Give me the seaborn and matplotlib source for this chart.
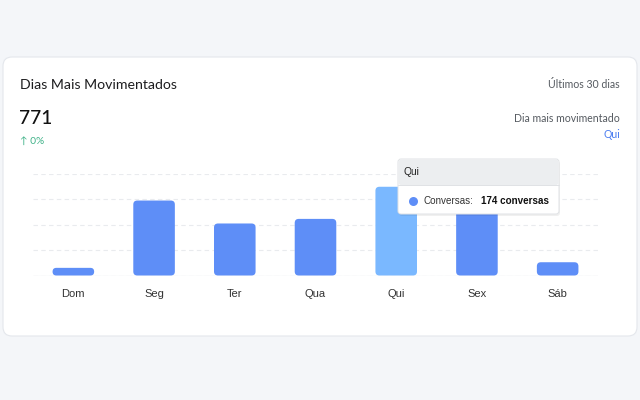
import matplotlib
matplotlib.use("Agg")
import matplotlib.pyplot as plt
from matplotlib.patches import FancyBboxPatch, Circle
import seaborn as sns
import pandas as pd

days = ["Dom", "Seg", "Ter", "Qua", "Qui", "Sex", "Sáb"]
conversas = [15, 147, 102, 111, 174, 160, 26]
highlight_day = "Qui"
grid_ticks = [0, 50, 100, 150, 200]

title = "Dias Mais Movimentados"
period = "Últimos 30 dias"
total = "771"
change = "↑ 0%"
busiest_label = "Dia mais movimentado"
tooltip_series = "Conversas:"
tooltip_value = "174 conversas"

BAR = "#5e8ef7"
BAR_HI = "#7ab8ff"
W, H = 640, 400

sns.set_theme(style="white")
plt.rcParams["font.family"] = ["Liberation Sans", "DejaVu Sans"]

fig = plt.figure(figsize=(6.4, 4), dpi=100)
fig.patch.set_facecolor("#f4f6f9")
T = fig.dpi_scale_trans


def P(x, y):
    return x / 100.0, (H - y) / 100.0


# card
cx0, cy0, cx1, cy1 = 3, 57, 637, 336
card = FancyBboxPatch(P(cx0, cy1), (cx1 - cx0) / 100, (cy1 - cy0) / 100,
                      boxstyle="round,pad=0,rounding_size=0.09",
                      transform=T, facecolor="white", edgecolor="#e4e7ec",
                      linewidth=0.8, zorder=0)
fig.add_artist(card)

# axes
ax_l, ax_r, ax_t, ax_b = 33, 598, 173.5, 275.5
ax = fig.add_axes([ax_l / W, (H - ax_b) / H, (ax_r - ax_l) / W, (ax_b - ax_t) / H])
ax.set_facecolor("none")

df = pd.DataFrame({"dia": days, "conversas": conversas})
colors = {d: (BAR_HI if d == highlight_day else BAR) for d in days}
sns.barplot(data=df, x="dia", y="conversas", hue="dia", palette=colors,
            legend=False, width=0.515, ax=ax, saturation=1)
ax.set_xlim(-0.5, len(days) - 0.5)
ax.set_ylim(0, grid_ticks[-1])
ax.set_yticks(grid_ticks)
ax.set_yticklabels([])
ax.set_xlabel("")
ax.set_ylabel("")
for s in ax.spines.values():
    s.set_visible(False)
ax.grid(axis="y", color="#e9ebee", linestyle=(0, (4, 3)), linewidth=0.8)
ax.axhline(0, color="#e6e8eb", linewidth=0.9, zorder=1)
ax.set_axisbelow(True)
ax.tick_params(axis="x", length=0, pad=9.5, labelsize=8, labelcolor="#333333")
ax.tick_params(axis="y", length=0)

# rounded bars
px_per_x = (ax_r - ax_l) / len(days)
px_per_y = (ax_b - ax_t) / grid_ticks[-1]
aspect = px_per_x / px_per_y
for p in list(ax.patches):
    x, y = p.get_x(), p.get_y()
    w, h = p.get_width(), p.get_height()
    fc = p.get_facecolor()
    p.remove()
    r = min(4.0 / px_per_x, (h / aspect) / 2 * 0.98)
    fb = FancyBboxPatch((x, y), w, h, boxstyle=f"round,pad=0,rounding_size={r}",
                        mutation_aspect=aspect, facecolor=fc, edgecolor="none",
                        zorder=3)
    ax.add_patch(fb)

# header texts
fig.text(20 / 100, (H - 85) / 100, title, transform=T, fontsize=10.2,
         family=["Lato", "DejaVu Sans"], color="#1d1d1f", va="center", ha="left")
fig.text(620 / 100, (H - 85) / 100, period, transform=T, fontsize=7.6,
         family=["Lato", "DejaVu Sans"], color="#555a60", va="center", ha="right")
fig.text(19.5 / 100, (H - 118) / 100, total, transform=T, fontsize=13.8,
         family=["Lato", "DejaVu Sans"], fontweight="medium", color="#111111",
         va="center", ha="left")
fig.text(20 / 100, (H - 141) / 100, change, transform=T, fontsize=7.3,
         family=["Lato", "DejaVu Sans"], color="#3fb288", va="center", ha="left")
fig.text(620 / 100, (H - 119) / 100, busiest_label, transform=T, fontsize=7.6,
         family=["Lato", "DejaVu Sans"], color="#555a60", va="center", ha="right")
fig.text(620 / 100, (H - 135) / 100, highlight_day, transform=T, fontsize=7.6,
         family=["Lato", "DejaVu Sans"], color="#4a7cf0", va="center", ha="right")

# tooltip
tx0, ty0, tx1, ty1 = 398, 159, 559, 214
shadow = FancyBboxPatch(P(tx0 + 1, ty1 + 2), (tx1 - tx0) / 100, (ty1 - ty0) / 100,
                        boxstyle="round,pad=0,rounding_size=0.03", transform=T,
                        facecolor="#000000", alpha=0.06, edgecolor="none", zorder=10)
fig.add_artist(shadow)
tip = FancyBboxPatch(P(tx0, ty1), (tx1 - tx0) / 100, (ty1 - ty0) / 100,
                     boxstyle="round,pad=0,rounding_size=0.03", transform=T,
                     facecolor="white", edgecolor="#e0e2e5", linewidth=0.7, zorder=11)
fig.add_artist(tip)
head = FancyBboxPatch(P(tx0 + 0.5, 185), (tx1 - tx0 - 1) / 100, (185 - ty0 - 0.5) / 100,
                      boxstyle="round,pad=0,rounding_size=0.025", transform=T,
                      facecolor="#eceef0", edgecolor="none", zorder=12)
fig.add_artist(head)
fig.add_artist(plt.Line2D([tx0 / 100, tx1 / 100], [(H - 185) / 100] * 2, transform=T,
                          color="#e0e2e5", linewidth=0.7, zorder=12))
fig.text(403 / 100, (H - 172) / 100, highlight_day, transform=T, fontsize=7.4,
         color="#222222", va="center", ha="left", zorder=13)
fig.add_artist(Circle(P(413.5, 201.5), 0.045, transform=T, facecolor=BAR,
                      edgecolor="none", zorder=13))
fig.text(423 / 100, (H - 201.5) / 100, tooltip_series, transform=T, fontsize=7.1,
         color="#333333", va="center", ha="left", zorder=13)
fig.text(481 / 100, (H - 201.5) / 100, tooltip_value, transform=T, fontsize=7.1,
         color="#111111", fontweight="bold", va="center", ha="left", zorder=13)

fig.savefig("out.png", dpi=100, facecolor=fig.get_facecolor())
